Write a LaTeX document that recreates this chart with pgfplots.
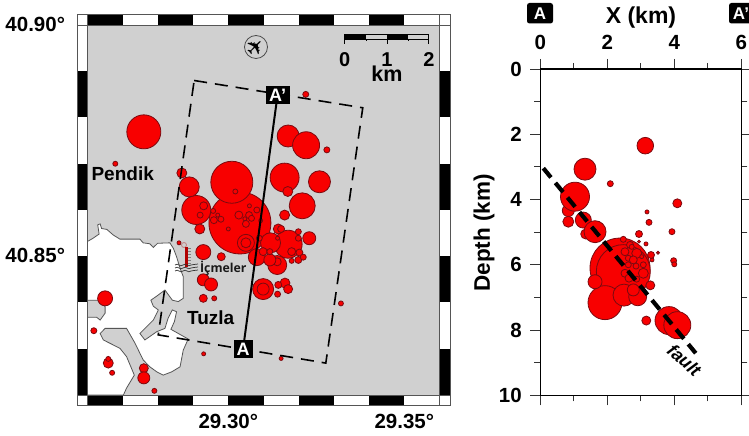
\documentclass[border=0pt]{standalone}
\usepackage{fontspec}
\usepackage{pgfplots}
\usepackage{pgfplotstable}
\pgfplotsset{compat=1.18}
\setmainfont{Liberation Sans}
\newfontfamily\dejavu{DejaVu Sans}
\newfontfamily\opens{Open Sans}
\definecolor{cred}{HTML}{F80000}
\definecolor{cedge}{HTML}{7A0A10}
\definecolor{mapgray}{HTML}{D0D0D0}
\definecolor{frameg}{HTML}{555555}
\newcommand{\fs}[1]{\fontsize{#1}{#1}\selectfont}

\pgfplotstableread{
lon lat r
29.3033 40.8572 31
29.3010 40.8660 21
29.2909 40.8600 14.5
29.2889 40.8650 10
29.2868 40.8680 5
29.2760 40.8769 17
29.2679 40.8700 2.5
29.3170 40.8760 11
29.3221 40.8740 13.5
29.3280 40.8730 3
29.3220 40.8850 3
29.3160 40.8670 14.5
29.3169 40.8640 5
29.3259 40.8661 11
29.3210 40.8609 13
29.3160 40.8589 5
29.3170 40.8526 14
29.3120 40.8529 10
29.3230 40.8539 6.5
29.3142 40.8559 5
29.3150 40.8559 3.5
29.3088 40.8539 3
29.3081 40.8498 8.5
29.3139 40.8481 9.5
29.3139 40.8488 4
29.3099 40.8510 4
29.3050 40.8529 8.5
29.3050 40.8529 5
29.3199 40.8553 3
29.3199 40.8539 3
29.3180 40.8510 4
29.3202 40.8508 3.5
29.3199 40.8492 3.5
29.3213 40.8498 3
29.3180 40.8490 2.5
29.3118 40.8492 6
29.3118 40.8510 3
29.3099 40.8429 10.5
29.3099 40.8429 6
29.3161 40.8442 5
29.3170 40.8429 4.5
29.3140 40.8418 3
29.3142 40.8438 3.5
29.2930 40.8609 4
29.2920 40.8589 3
29.2957 40.8598 2.5
29.2959 40.8578 3.5
29.2979 40.8580 3
29.2970 40.8589 2
29.3030 40.8589 4
29.3059 40.8589 3.5
29.3050 40.8570 3.5
29.3066 40.8582 3
29.3047 40.8581 2
29.3081 40.8600 3
29.3000 40.8559 2
29.3060 40.8609 2
29.3020 40.8640 2.5
29.3092 40.8577 2
29.3140 40.8539 2
29.2919 40.8559 5
29.2929 40.8509 7.5
29.2980 40.8499 4
29.2929 40.8449 6
29.2951 40.8439 6.5
29.2929 40.8409 4
29.2960 40.8409 2.5
29.2650 40.8409 7.5
29.2618 40.8339 3
29.2659 40.8269 5
29.2659 40.8278 2.5
29.2670 40.8248 2.5
29.2760 40.8258 4.5
29.2760 40.8237 6
29.2790 40.8209 2.5
29.2930 40.8289 2
29.2860 40.8529 2
29.3150 40.8279 2
29.3320 40.8398 2.5
}\tabmap

\pgfplotstableread{
x d r
2.379 6.10 30
2.478 6.21 27
1.931 7.16 17
1.633 6.52 7
2.499 6.93 11
2.907 6.98 9
2.776 6.77 6
3.284 6.63 4.5
3.164 7.71 4.5
3.842 7.71 14
4.090 7.85 13.5
3.134 2.35 8.3
1.334 3.07 11
2.090 3.515 3
4.090 4.116 4.5
3.185 4.38 2
0.836 4.34 6
1.036 3.913 14.5
0.836 4.68 5.5
1.284 4.63 8
1.355 5.057 5
1.633 4.986 11
3.245 4.70 3
2.946 5.057 3.5
3.930 4.986 3
3.155 5.36 2
2.946 5.29 1.5
3.513 5.63 1.5
3.334 5.85 2
3.305 5.70 3.5
3.980 5.875 3
4.000 5.985 2.5
2.478 5.22 3
2.678 5.39 3.5
2.528 5.60 4
2.878 5.65 5
2.627 5.80 3
2.776 5.85 4
2.627 6.00 3
2.857 6.04 3
3.075 6.26 5
2.528 6.26 4
2.648 6.41 4
2.878 6.44 3
3.075 6.00 3
3.027 5.75 2
2.728 5.45 2.5
}\tabsec

\pgfplotsset{
  quakes/.style={only marks, mark=*,
    scatter, scatter/use mapped color={draw=cedge,fill=cred,line width=.8pt},
    visualization depends on={\thisrow{r}\as\rr},
    scatter/@pre marker code/.append style={/tikz/mark size=\rr}},
  mapbox/.style={
    at={(87.5pt,41pt)}, anchor=south west,
    width=352pt, height=370pt, scale only axis,
    xmin=29.26, xmax=29.36, ymin=40.82, ymax=40.90},
  secbox/.style={
    at={(540.3pt,40.7pt)}, anchor=south west,
    width=201pt, height=326.3pt, scale only axis,
    xmin=0, xmax=6, ymin=0, ymax=10, y dir=reverse},
}

\begin{document}
\begin{tikzpicture}
\useasboundingbox (0,0) rectangle (749pt,436pt);

% ---------- map ----------
\begin{axis}[
  mapbox,
  axis background/.style={fill=mapgray},
  axis line style={draw=none},
  major tick length=0pt,
  xtick={29.30,29.35}, xticklabels={29.30°,29.35°},
  ytick={40.85,40.90}, yticklabels={40.85°,40.90°},
  xticklabel style={font=\bfseries\fs{20.5}, yshift=-16pt},
  yticklabel style={font=\bfseries\fs{20.5}, xshift=-19pt, yshift=0.5pt},
]
\addplot[fill=white, draw=frameg, line width=.8pt] coordinates {
(29.2600,40.8532)(29.2616,40.8539)(29.2633,40.8548)(29.2629,40.8568)(29.2636,40.8570)
(29.2640,40.8560)(29.2655,40.8558)(29.2673,40.8546)(29.2692,40.8537)(29.2749,40.8537)
(29.2758,40.8529)(29.2777,40.8527)(29.2787,40.8519)(29.2799,40.8528)(29.2834,40.8529)
(29.2844,40.8517)(29.2853,40.8499)(29.2863,40.8474)(29.2872,40.8456)(29.2872,40.8409)
(29.2858,40.8402)(29.2841,40.8405)(29.2820,40.8427)(29.2797,40.8414)(29.2780,40.8405)
(29.2787,40.8392)(29.2801,40.8384)(29.2799,40.8380)(29.2787,40.8362)(29.2749,40.8333)
(29.2763,40.8319)(29.2797,40.8337)(29.2820,40.8344)(29.2829,40.8366)(29.2841,40.8384)
(29.2853,40.8380)(29.2847,40.8359)(29.2837,40.8342)(29.2886,40.8321)(29.2872,40.8297)
(29.2863,40.8261)(29.2839,40.8250)(29.2815,40.8243)(29.2797,40.8250)(29.2777,40.8261)
(29.2758,40.8276)(29.2735,40.8312)(29.2711,40.8344)(29.2650,40.8344)(29.2636,40.8333)
(29.2645,40.8319)(29.2692,40.8301)(29.2711,40.8283)(29.2733,40.8243)(29.2711,40.8215)
(29.2702,40.8200)(29.2600,40.8200)(29.2600,40.8368)(29.2626,40.8368)(29.2636,40.8362)
(29.2650,40.8377)(29.2650,40.8391)(29.2631,40.8405)(29.2600,40.8405)(29.2600,40.8532)
};
\addplot[quakes] table[x=lon,y=lat] {\tabmap};
\end{axis}
% profile box and section line, over the events
\begin{axis}[mapbox, hide axis]
\addplot[black, line width=1.6pt, dash pattern=on 13pt off 8pt] coordinates {
(29.2903,40.8880)(29.3382,40.8821)(29.3277,40.8269)(29.2801,40.8330)(29.2903,40.8880)};
\addplot[black, line width=2pt] coordinates {(29.3042,40.8300)(29.3140,40.8849)};
\end{axis}

% ---------- cross-section ----------
\begin{axis}[
  secbox,
  axis line style={line width=1.5pt},
  tick align=outside, tick pos=both,
  xticklabel pos=right, yticklabel pos=left,
  xtick={0,2,4,6}, ytick={0,2,4,6,8,10},
  minor xtick={1,3,5}, minor ytick={1,3,5,7,9},
  major tick length=10pt, minor tick length=6pt,
  every tick/.style={black!80, line width=.8pt},
  /pgf/number format/assume math mode=true,
  xticklabel style={font=\bfseries\fs{20.5}, yshift=5.5pt},
  yticklabel style={font=\bfseries\fs{20.5}, xshift=-5pt},
  clip=false,
]
\addplot[quakes] table[x=x,y=d] {\tabsec};
\end{axis}
\begin{axis}[secbox, hide axis, clip=false]
\addplot[black, line width=4.2pt, dash pattern=on 12pt off 7pt] coordinates {(0.09,3.04)(4.64,8.71)};
\end{axis}

% ---------- annotations, in picture units ----------
\begin{scope}[x=1pt,y=-1pt,shift={(0pt,436pt)}]
  % map frame
  \foreach \k in {0,2,4,6,8} {
    \fill[black] ({87.5+35.2*\k},14.5) rectangle ({87.5+35.2*(\k+1)},25);
    \fill[black] ({87.5+35.2*\k},395) rectangle ({87.5+35.2*(\k+1)},405.5);
  }
  \foreach \k in {1,3,5,7} {
    \fill[black] (77.5,{25+46.25*\k}) rectangle (87.5,{25+46.25*(\k+1)});
    \fill[black] (439.5,{25+46.25*\k}) rectangle (450,{25+46.25*(\k+1)});
  }
  \draw[frameg, line width=.9pt] (77.5,14.5) rectangle (450,405.5);
  \draw[frameg, line width=.9pt] (77.5,25) -- (450,25) (77.5,395) -- (450,395)
        (87.5,14.5) -- (87.5,405.5) (439.5,14.5) -- (439.5,405.5);

  % section markers on map
  \fill[black] (233.5,340) rectangle (252.5,358);
  \node[text=white,font=\bfseries\fs{18}] at (243,349) {A};
  \fill[black] (265.7,86) rectangle (289.7,104);
  \node[text=white,font=\bfseries\fs{18}] at (277.7,95) {A'};

  % place names
  \node[font=\bfseries\fs{19}] at (122.7,174) {Pendik};
  \node[font=\bfseries\fs{19}] at (210.7,317.7) {Tuzla};
  \node[font=\opens\bfseries\fs{12.3}, text=black!90] at (223.3,268) {İçmeler};

  % thermal spring symbol
  \draw[red!50!black!50, line width=.8pt] (184,245) circle (2.5);
  \draw[black!50, line width=.5pt] (188,248) -- (191,248) (188,251) -- (191,251) (188,254) -- (191,254)
     (188,257) -- (191,257) (188,260) -- (191,260) (188,263) -- (191,263);
  \draw[red!70!black, line width=3pt] (186,247) -- (186,267);
  \foreach \yy in {265,268,271} {
    \draw[black!80, line width=.7pt] (175,\yy) .. controls (178,\yy-3) and (180,\yy+3) .. (183,\yy)
       .. controls (186,\yy-3) and (188,\yy+3) .. (191,\yy)
       .. controls (193,\yy-2) and (195,\yy+1) .. (198,\yy-1);
  }

  % airport
  \draw[black!70, line width=.8pt] (256,47) circle (11.5);
  \node[font=\dejavu\fs{22}, rotate=45] at (256,47) {✈};

  % scale bar
  \fill[black] (344.7,34) rectangle (366,39);
  \fill[black] (387,34) rectangle (408,39);
  \draw[black, line width=.7pt] (344.7,34) rectangle (428.7,39);
  \draw[black, line width=.7pt] (344.7,39) -- (344.7,44) (366,39) -- (366,41.5) (387,39) -- (387,44)
     (408,39) -- (408,41.5) (428.7,39) -- (428.7,44);
  \node[font=\bfseries\fs{20}] at (344.7,60) {0};
  \node[font=\bfseries\fs{20}] at (387,60) {1};
  \node[font=\bfseries\fs{20}] at (429,60) {2};
  \node[font=\bfseries\fs{21.5}] at (387,74) {km};

  % section labels
  \fill[black, rounded corners=2.5pt] (527,3) rectangle (553,23.5);
  \node[text=white,font=\bfseries\fs{17}] at (540,13.2) {A};
  \fill[black, rounded corners=2.5pt] (729,3) rectangle (755,23.5);
  \node[text=white,font=\bfseries\fs{17}] at (741,13.2) {A'};
  \node[font=\bfseries\fs{23}] at (641,18) {X (km)};
  \node[font=\bfseries\fs{22.5}, rotate=90] at (484,233) {Depth (km)};
  \node[font=\bfseries\itshape\fs{18}, rotate=-42] at (684.3,360) {fault};
\end{scope}
\end{tikzpicture}
\end{document}
